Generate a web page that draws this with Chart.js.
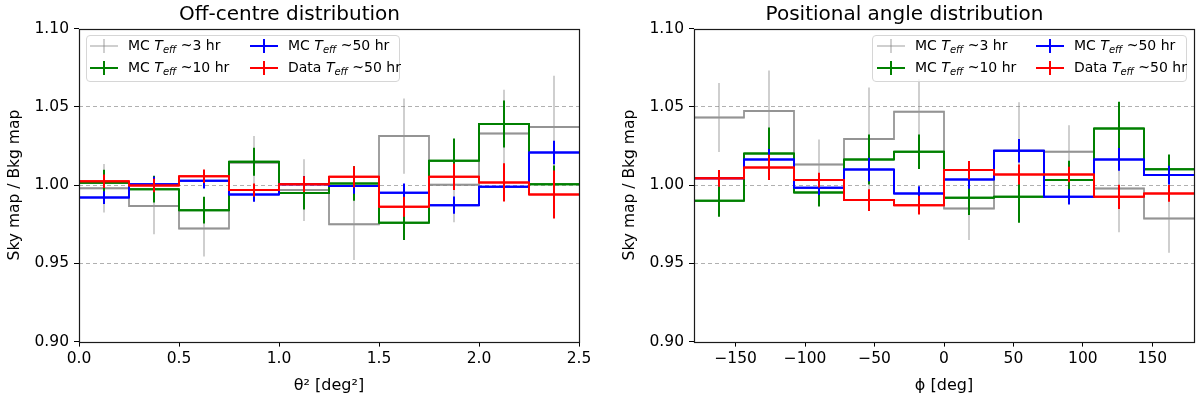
<!DOCTYPE html>
<html><head><meta charset="utf-8">
<script src="https://cdn.jsdelivr.net/npm/chart.js@4/dist/chart.umd.min.js"></script>
<style>
html,body{margin:0;padding:0;background:#fff;}
#wrap{position:relative;width:1200px;height:398px;overflow:hidden;}
canvas{position:absolute;top:0;}
#c1{left:0}
#c2{left:600px}
.legend{position:absolute;box-sizing:border-box;border:1px solid #d6d6d6;border-radius:4px;background:rgba(255,255,255,0.85);}
.lt{position:absolute;font-family:"DejaVu Sans";font-size:14px;color:#000;white-space:nowrap;line-height:18px;}
.lt i{font-style:italic;}
.lt sub{font-size:10px;font-style:italic;vertical-align:-3px;line-height:0;}
.hh{position:absolute;height:2px;width:28px;}
.hv{position:absolute;width:2px;height:14px;}
</style>
</head><body>
<div id="wrap">
<canvas id="c1" width="600" height="398"></canvas>
<canvas id="c2" width="600" height="398"></canvas>
</div>
<script>
// ---------- data ----------
const leftEdges = [0, 0.25, 0.5, 0.75, 1.0, 1.25, 1.5, 1.75, 2.0, 2.25, 2.5];
const rightEdges = [-180, -144, -108, -72, -36, 0, 36, 72, 108, 144, 180];

const leftGray      = [0.998, 0.9866, 0.9723, 1.0143, 0.9968, 0.975, 1.0313, 1.0002, 1.033, 1.0372];
const leftGrayErr   = [0.0155, 0.018, 0.018, 0.017, 0.0197, 0.0228, 0.024, 0.024, 0.028, 0.0326];
const leftGreen     = [1.0015, 0.9974, 0.984, 1.0149, 0.995, 1.001, 0.976, 1.0155, 1.039, 1.0006];
const leftGreenErr  = [0.0083, 0.0085, 0.0086, 0.009, 0.0106, 0.011, 0.011, 0.0143, 0.015, 0.012];
const leftBlue      = [0.992, 1.0006, 1.0028, 0.994, 1.0006, 0.9994, 0.9951, 0.9872, 0.999, 1.0209];
const leftBlueErr   = [0.004, 0.0048, 0.005, 0.0047, 0.005, 0.005, 0.006, 0.0055, 0.006, 0.0075];
const leftRed       = [1.0025, 0.9998, 1.0057, 0.9968, 1.0006, 1.0053, 0.9862, 1.0053, 1.0017, 0.994];
const leftRedErr    = [0.0043, 0.0043, 0.0043, 0.0043, 0.005, 0.0068, 0.0064, 0.0085, 0.0122, 0.0154];

const rightGray     = [1.0432, 1.0473, 1.0132, 1.0294, 1.0468, 0.985, 1.022, 1.0213, 0.9979, 0.9787];
const rightGrayErr  = [0.022, 0.026, 0.016, 0.033, 0.021, 0.020, 0.031, 0.017, 0.028, 0.022];
const rightGreen    = [0.990, 1.0202, 0.9953, 1.0164, 1.0213, 0.9919, 0.9925, 1.0032, 1.0362, 1.0102];
const rightGreenErr = [0.0102, 0.0166, 0.009, 0.016, 0.011, 0.011, 0.0166, 0.0123, 0.017, 0.0094];
const rightBlue     = [1.0043, 1.0164, 0.9983, 1.010, 0.9947, 1.0036, 1.0219, 0.9925, 1.0164, 1.0064];
const rightBlueErr  = [0.005, 0.0066, 0.0047, 0.0075, 0.0045, 0.006, 0.0075, 0.0049, 0.0073, 0.006];
const rightRed      = [1.0043, 1.0113, 1.0032, 0.9904, 0.9872, 1.0096, 1.0068, 1.0068, 0.9925, 0.9947];
const rightRedErr   = [0.0053, 0.0081, 0.0047, 0.007, 0.006, 0.0058, 0.0064, 0.005, 0.0078, 0.0053];

const leftXTicks = [0, 0.5, 1.0, 1.5, 2.0, 2.5];
const rightXTicks = [-150, -100, -50, 0, 50, 100, 150];
const yTicks = [0.90, 0.95, 1.00, 1.05, 1.10];

const seriesNames = ['MC', 'MC', 'MC', 'Data'];
const seriesTimes = ['~3 hr', '~10 hr', '~50 hr', '~50 hr'];
// ---------- styles ----------
const stepColors = ['rgba(128,128,128,0.75)', '#008000', '#0000ff', '#ff0000'];
const errColors  = ['rgba(128,128,128,0.38)', '#008000', '#0000ff', '#ff0000'];
const FONT = 'DejaVu Sans';

function stepData(edges, vals) {
  return edges.map((e, i) => ({x: e, y: vals[Math.min(i, vals.length - 1)]}));
}
function errData(edges, vals, errs) {
  const pts = [];
  for (let i = 0; i < vals.length; i++) {
    const c = (edges[i] + edges[i + 1]) / 2;
    pts.push({x: c, y: vals[i] - errs[i]}, {x: c, y: vals[i] + errs[i]}, {x: c, y: null});
    pts.push({x: edges[i], y: vals[i]}, {x: edges[i + 1], y: vals[i]}, {x: edges[i + 1], y: null});
  }
  return pts;
}

const framePlugin = {
  id: 'frame',
  afterDatasetsDraw(chart) {
    const a = chart.chartArea, ctx = chart.ctx;
    ctx.save();
    ctx.strokeStyle = '#1a1a1a';
    ctx.lineWidth = 1.2;
    ctx.strokeRect(Math.round(a.left) + 0.5, Math.round(a.top) + 0.5, Math.round(a.right - a.left), Math.round(a.bottom - a.top));
    ctx.restore();
  }
};

function makeChart(id, edges, vals, errs, xTicks, xmin, xmax, fmt, title, xTitle, padLeft, padRight) {
  const datasets = [];
  const drawOrder = [3, 2, 1, 0]; // red on top
  drawOrder.forEach((s, k) => {
    datasets.push({type: 'line', data: stepData(edges, vals[s]), stepped: 'before', borderColor: stepColors[s],
      borderWidth: 2, pointRadius: 0, fill: false, order: 2 * k + 1, spanGaps: false});
    datasets.push({type: 'line', data: errData(edges, vals[s], errs[s]), borderColor: errColors[s],
      borderWidth: 2, pointRadius: 0, fill: false, order: 2 * k + 2, spanGaps: false});
  });
  return new Chart(document.getElementById(id), {
    type: 'line',
    data: {datasets},
    options: {
      responsive: false, animation: false, devicePixelRatio: 1,
      layout: {padding: {left: padLeft, right: padRight, top: 0, bottom: 0}},
      plugins: {
        legend: {display: false}, tooltip: {enabled: false},
        title: {display: true, text: title, color: '#000',
          font: {family: FONT, size: 20, weight: 'normal'}, padding: {top: 3, bottom: 1.6}}
      },
      scales: {
        x: {
          type: 'linear', min: xmin, max: xmax,
          afterBuildTicks: s => { s.ticks = xTicks.map(v => ({value: v})); },
          afterFit: s => { s.height = 56.4; },
          ticks: {callback: fmt, color: '#000', font: {family: FONT, size: 15.5}, padding: 3, maxRotation: 0, autoSkip: false},
          grid: {drawOnChartArea: false, tickLength: 5, tickColor: '#000', tickWidth: 1},
          border: {display: false},
          title: {display: true, text: xTitle, color: '#000', font: {family: FONT, size: 16}, padding: {top: 0, bottom: 3}}
        },
        y: {
          type: 'linear', min: 0.9, max: 1.1,
          afterBuildTicks: s => { s.ticks = yTicks.map(v => ({value: v})); },
          afterFit: s => { s.width = 79; },
          ticks: {callback: v => v.toFixed(2), color: '#000', font: {family: FONT, size: 15.5}, padding: 5},
          grid: {
            color: c => (c.tick && c.tick.value > 0.91 && c.tick.value < 1.09) ? '#b0b0b0' : 'rgba(0,0,0,0)',
            lineWidth: 1, tickColor: '#000', tickLength: 5, tickWidth: 1, tickBorderDash: []
          },
          border: {display: false, dash: [4, 3]},
          title: {display: true, text: 'Sky map / Bkg map', color: '#000', font: {family: FONT, size: 15.5}, padding: {top: 6, bottom: 0}}
        }
      }
    },
    plugins: [framePlugin]
  });
}

makeChart('c1', leftEdges,
  [leftGray, leftGreen, leftBlue, leftRed], [leftGrayErr, leftGreenErr, leftBlueErr, leftRedErr],
  leftXTicks, 0, 2.5, v => Number(v).toFixed(1), 'Off-centre distribution', 'θ² [deg²]', 0, 21);

makeChart('c2', rightEdges,
  [rightGray, rightGreen, rightBlue, rightRed], [rightGrayErr, rightGreenErr, rightBlueErr, rightRedErr],
  rightXTicks, -180, 180, v => (v < 0 ? '\u2212' + (-v) : String(v)), 'Positional angle distribution', 'ϕ [deg]', 15, 6);

// ---------- legends (HTML text with italic/subscript) ----------
function makeLegend(box, col1, col2) {
  const wrap = document.getElementById('wrap');
  const lg = document.createElement('div');
  lg.className = 'legend';
  Object.assign(lg.style, {left: box[0] + 'px', top: box[1] + 'px', width: (box[2] - box[0]) + 'px', height: (box[3] - box[1]) + 'px'});
  wrap.appendChild(lg);
  const rows = [46, 68];
  const cols = [col1, col2];
  for (let s = 0; s < 4; s++) {
    const col = cols[Math.floor(s / 2)], cy = rows[s % 2];
    const h = document.createElement('div'); h.className = 'hh';
    Object.assign(h.style, {left: col + 'px', top: (cy - 1) + 'px', background: errColors[s]});
    const v = document.createElement('div'); v.className = 'hv';
    Object.assign(v.style, {left: (col + 13) + 'px', top: (cy - 7) + 'px', background: errColors[s]});
    const t = document.createElement('div'); t.className = 'lt';
    t.innerHTML = seriesNames[s] + ' <i>T</i><sub>eff</sub> ' + seriesTimes[s];
    Object.assign(t.style, {left: (col + 38) + 'px', top: (cy - 10) + 'px'});
    wrap.appendChild(h); wrap.appendChild(v); wrap.appendChild(t);
  }
}
makeLegend([86, 35, 400, 82], 90, 250);
makeLegend([872, 35, 1187, 82], 877, 1036);
</script>
</body></html>
